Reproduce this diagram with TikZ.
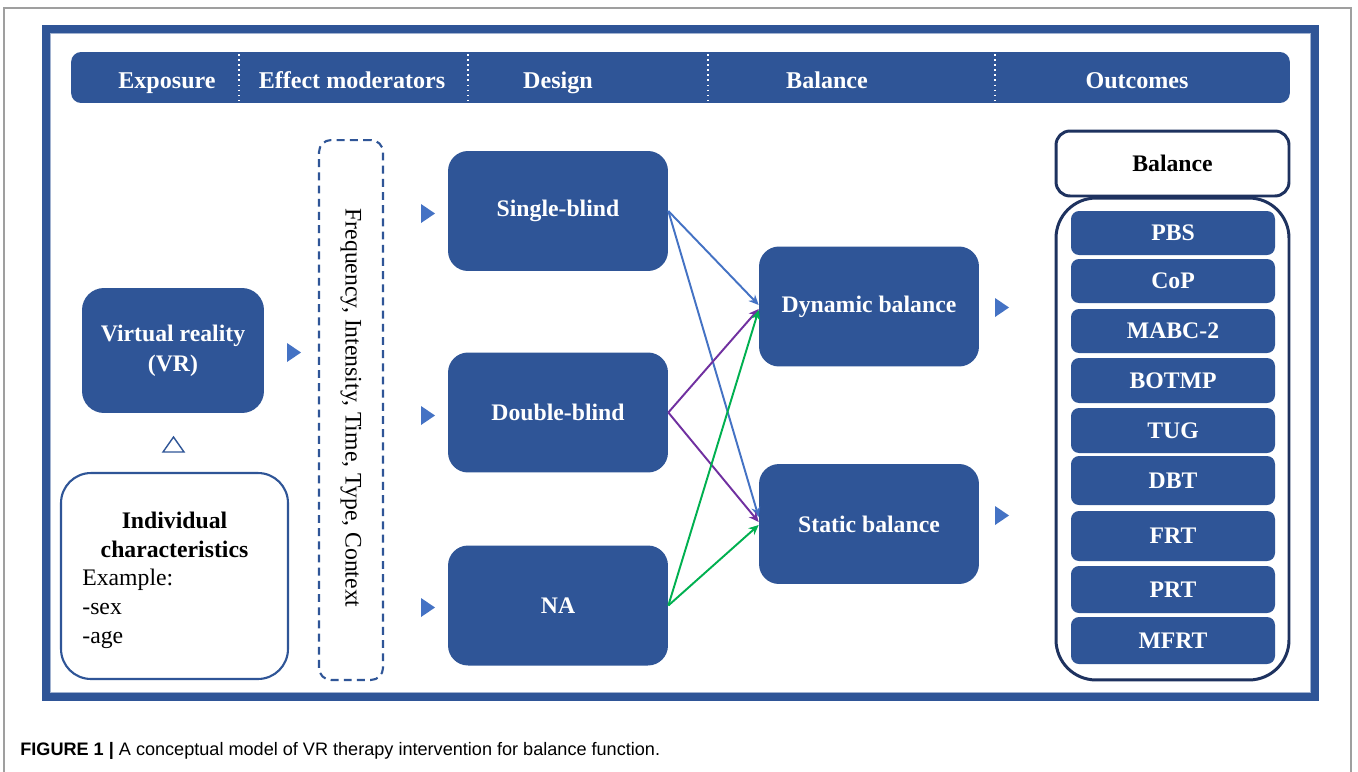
\documentclass[tikz,border=0pt]{standalone}
\usepackage{fontspec}
\setmainfont{Liberation Serif}
\newfontfamily\captionfont{Liberation Sans}
\usepackage{xcolor}
\usetikzlibrary{
  arrows.meta,
  positioning}

\definecolor{vrblue}{RGB}{47,85,151}
\definecolor{vrlight}{RGB}{68,114,196}
\definecolor{vrnavy}{RGB}{30,50,95}
\definecolor{vrpurple}{RGB}{112,48,160}
\definecolor{vrgreen}{RGB}{0,176,80}

\tikzset{
  module/.style={%
    fill=vrblue, draw=none, rounded corners=0.4cm,
    minimum width=4.4cm, minimum height=2.4cm,
    align=center, text=white,
    font=\fontsize{13.5}{17}\selectfont\bfseries
  },
  measure/.style={%
    fill=vrblue, draw=none, rounded corners=0.16cm,
    minimum width=4.08cm, inner sep=0pt,
    text=white, font=\fontsize{13.5}{16}\selectfont\bfseries
  },
  headbar/.style={%
    fill=vrblue, draw=none, rounded corners=0.2cm
  },
  headlabel/.style={%
    anchor=base, text=white, inner sep=0pt,
    font=\fontsize{13.7}{16}\selectfont\bfseries
  },
  headsep/.style={%
    draw=white, line width=0.9pt, dotted
  },
  % Small filled pointers that lead into each column.
  marker/.style={%
    fill=vrlight
  },
  arrowB/.style={%
    draw=vrlight, line width=1.1pt,
    -{Stealth[length=2mm,width=1.8mm]}
  },
  arrowP/.style={%
    draw=vrpurple, line width=1.1pt,
    -{Stealth[length=2mm,width=1.8mm]}
  },
  arrowG/.style={%
    draw=vrgreen, line width=1.1pt,
    -{Stealth[length=2mm,width=1.8mm]}
  }%
}

\begin{document}
\begin{tikzpicture}[x=0.02cm, y=-0.02cm,
    font=\fontsize{13.5}{16.5}\selectfont]

\useasboundingbox[fill=white] (0,0) rectangle (1358,771);

% Thin grey page rule and the thick blue frame around the model.
\draw[gray!75, line width=0.8pt] (4,780) -- (4,8) -- (1351,8) -- (1351,780);
\draw[vrblue, line width=4.5pt] (46,29) rectangle (1315,697);
\draw[vrblue!45, line width=0.5pt] (50.5,33.5) rectangle (1310.5,692.5);

% Header bar with the five column titles.
\node[headbar, minimum width=24.38cm, minimum height=1.02cm] (HeadBar) at (680.5,77.5) {};
\foreach \x in {239,468,708,995}
  \draw[headsep] (\x,54) -- (\x,102);
\node[headlabel] (hExposure) at (167,88) {Exposure};
\node[headlabel] (hModerators) at (352,88) {Effect moderators};
\node[headlabel] (hDesign) at (558,88) {Design};
\node[headlabel] (hBalance) at (827,88) {Balance};
\node[headlabel] (hOutcomes) at (1137,88) {Outcomes};

% Exposure column.
\node[module, minimum width=3.64cm, minimum height=2.5cm, rounded corners=0.44cm]
  (VR) at (173,350.5) {Virtual reality\\(VR)};
\draw[vrblue, line width=0.8pt] (163,452) -- (173.5,437) -- (184,452) -- cycle;
\node[draw=vrblue, line width=1.2pt, rounded corners=0.6cm,
  minimum width=4.54cm, minimum height=4.12cm] (Indiv) at (174.5,576) {};
\node[align=center, font=\fontsize{13.5}{16.5}\selectfont\bfseries]
  (IndivHead) at (174.5,534.5) {Individual\\characteristics};
\node[align=left, anchor=west, inner sep=0pt]
  (IndivList) at (82,609) {Example:\\-sex\\-age};

% Effect moderators, set sideways in a dashed box.
\node[draw=vrblue, line width=1.2pt, dash pattern=on 4.5pt off 3pt,
  rounded corners=0.24cm, minimum width=1.28cm, minimum height=10.8cm]
  (Moderators) at (351,410) {};
\node[rotate=-90, inner sep=0pt] (ModText) at (351,408)
  {Frequency, Intensity, Time, Type, Context};

% Design column.
\node[module] (Single) at (558,211) {Single-blind};
\node[module] (Double) at (558,412.5) {Double-blind};
\node[module] (NA) at (558,605.5) {NA};

% Balance column.
\node[module] (Dynamic) at (869,306.5) {Dynamic balance};
\node[module] (Static) at (869,524) {Static balance};

\foreach \x/\y in {287/343, 421/204, 421/406, 421/598, 995/298, 995/506}
  \fill[marker] (\x,\y) -- ++(14,9.5) -- ++(-14,9.5) -- cycle;

\draw[arrowB] (Single.east) -- ([yshift=0.03cm]Dynamic.west);
\draw[arrowB] (Single.east) -- ([yshift=0.14cm]Static.west);
\draw[arrowP] (Double.east) -- ([yshift=-0.05cm]Dynamic.west);
\draw[arrowP] (Double.east) -- ([yshift=0.04cm]Static.west);
\draw[arrowG] (NA.east) -- ([yshift=-0.07cm]Dynamic.west);
\draw[arrowG] (NA.east) -- ([yshift=-0.02cm]Static.west);

% Outcomes: a titled panel with one box per balance measure.
\node[draw=vrnavy, line width=1.7pt, fill=white, rounded corners=0.28cm,
  minimum width=4.66cm, minimum height=1.3cm,
  font=\fontsize{13.5}{16}\selectfont\bfseries] (Outcome) at (1172.5,163.5) {Balance};
\node[draw=vrnavy, line width=1.7pt, rounded corners=0.8cm,
  minimum width=4.66cm, minimum height=9.64cm] (MeasurePanel) at (1172.5,439) {};
\foreach \lab/\y/\h [count=\i] in {PBS/233/44, CoP/281/44, MABC-2/331/44,
    BOTMP/380.5/45, TUG/430.5/45, DBT/480.5/49, FRT/536/50,
    PRT/589.5/47, MFRT/640.5/47}
  \node[measure, minimum height=\h*0.02cm] (m\i) at (1173,\y) {\lab};

\node[anchor=west, inner sep=0pt, font=\captionfont\fontsize{10.3}{12}\selectfont]
  (Caption) at (20,751) {\textbf{FIGURE 1 |} A conceptual model of VR therapy
  intervention for balance function.};

\end{tikzpicture}
\end{document}
